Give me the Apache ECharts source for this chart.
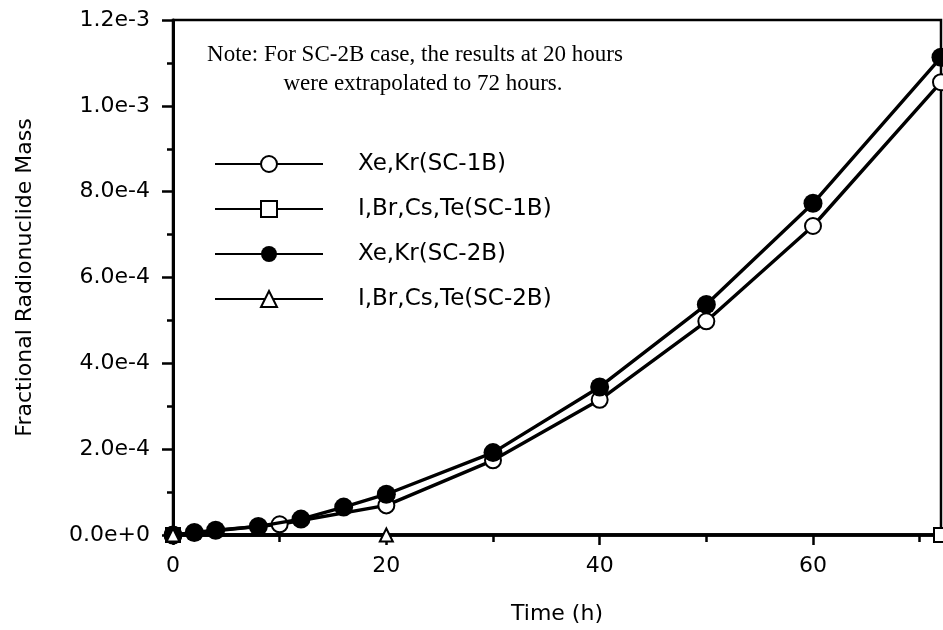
<!DOCTYPE html>
<html><head><meta charset="utf-8">
<script src="https://cdn.jsdelivr.net/npm/echarts@6/dist/echarts.min.js"></script>
<style>html,body{margin:0;padding:0;background:#fff}#c{width:943px;height:630px}</style>
</head><body><div id="c"></div>
<script>
const seriesNames = ['Xe,Kr(SC-1B)', 'I,Br,Cs,Te(SC-1B)', 'Xe,Kr(SC-2B)', 'I,Br,Cs,Te(SC-2B)'];
const hoursXeKrSC1B = [0, 10, 20, 30, 40, 50, 60, 72];
const massXeKrSC1B = [0, 0.25e-4, 0.69e-4, 1.74e-4, 3.15e-4, 4.98e-4, 7.2e-4, 10.55e-4];
const hoursIBrSC1B = [0, 72];
const massIBrSC1B = [0, 0];
const hoursXeKrSC2B = [0, 2, 4, 8, 12, 16, 20, 30, 40, 50, 60, 72];
const massXeKrSC2B = [0, 0.06e-4, 0.11e-4, 0.2e-4, 0.37e-4, 0.65e-4, 0.95e-4, 1.92e-4, 3.45e-4, 5.37e-4, 7.73e-4, 11.13e-4];
const hoursIBrSC2B = [0, 20];
const massIBrSC2B = [0, 0];
const xTickLabels = ['0', '20', '40', '60'];
const yTickLabels = ['0.0e+0', '2.0e-4', '4.0e-4', '6.0e-4', '8.0e-4', '1.0e-3', '1.2e-3'];
const noteLines = ['Note: For SC-2B case, the results at 20 hours', 'were extrapolated to 72 hours.'];

const pairs = (xs, ys) => xs.map((x, i) => [x, ys[i]]);
const F = 'DejaVu Sans';
const chart = echarts.init(document.getElementById('c'), null, {renderer: 'canvas'});
const baseLine = {color: '#000', width: 3.4};
chart.setOption({
  animation: false,
  backgroundColor: '#fff',
  grid: {left: 173, right: 2, top: 20, bottom: 92, show: true, borderColor: '#000', borderWidth: 2.5},
  legend: {
    orient: 'vertical', left: 214, top: 152, padding: 0, itemWidth: 108, itemHeight: 20, itemGap: 21,
    textStyle: {fontFamily: F, fontSize: 23, lineHeight: 24, color: '#000', padding: [0, 0, 0, 30]},
    data: seriesNames
  },
  graphic: [
    {type: 'text', x: 415, y: 55, style: {text: noteLines[0], font: '23px "Liberation Serif"', fill: '#000', align: 'center', verticalAlign: 'middle'}},
    {type: 'text', x: 423, y: 84, style: {text: noteLines[1], font: '23px "Liberation Serif"', fill: '#000', align: 'center', verticalAlign: 'middle'}}
  ],
  xAxis: [{
    type: 'value', min: 0, max: 72, interval: 20,
    name: 'Time (h)', nameLocation: 'middle', nameGap: 68,
    nameTextStyle: {fontFamily: F, fontSize: 22, color: '#000'},
    axisLine: {lineStyle: {color: '#000', width: 3.5}},
    axisTick: {show: true, length: 10, lineStyle: {color: '#000', width: 2.5}},
    axisLabel: {showMaxLabel: false, fontFamily: F, fontSize: 22, color: '#000', margin: 20,
      formatter: (v) => { const i = Math.round(v / 20); return (Math.abs(v - i * 20) < 1e-9 && i < xTickLabels.length) ? xTickLabels[i] : ''; }},
    splitLine: {show: false}
  }, {
    type: 'value', min: 0, max: 72, interval: 10, position: 'bottom',
    axisLine: {show: false},
    axisTick: {show: true, length: 7, lineStyle: {color: '#000', width: 2.5}},
    axisLabel: {show: false}, splitLine: {show: false}
  }],
  yAxis: {
    type: 'value', min: 0, max: 1.2e-3, interval: 2e-4,
    name: 'Fractional Radionuclide Mass', nameLocation: 'middle', nameGap: 137, nameRotate: 90,
    nameTextStyle: {fontFamily: F, fontSize: 22, color: '#000'},
    axisLine: {lineStyle: {color: '#000', width: 3}},
    axisTick: {show: true, length: 11, lineStyle: {color: '#000', width: 2.5}},
    minorTick: {show: true, splitNumber: 2, length: 6, lineStyle: {color: '#000', width: 2.5}},
    axisLabel: {fontFamily: F, fontSize: 22, color: '#000', margin: 23,
      formatter: (v) => yTickLabels[Math.round(v / 2e-4)]},
    splitLine: {show: false}
  },
  series: [
    {name: seriesNames[0], type: 'line', data: pairs(hoursXeKrSC1B, massXeKrSC1B), symbol: 'emptyCircle', symbolSize: 16,
      lineStyle: baseLine, itemStyle: {color: '#000', borderWidth: 3}, z: 2},
    {name: seriesNames[1], type: 'line', data: pairs(hoursIBrSC1B, massIBrSC1B), symbol: 'emptyRect', symbolSize: 14,
      lineStyle: baseLine, itemStyle: {color: '#000', borderWidth: 3}, z: 3},
    {name: seriesNames[2], type: 'line', data: pairs(hoursXeKrSC2B, massXeKrSC2B), symbol: 'circle', symbolSize: 19,
      lineStyle: baseLine, itemStyle: {color: '#000'}, z: 4},
    {name: seriesNames[3], type: 'line', data: pairs(hoursIBrSC2B, massIBrSC2B), symbol: 'emptyTriangle', symbolSize: 13,
      lineStyle: baseLine, itemStyle: {color: '#000', borderWidth: 3}, z: 5}
  ]
});
</script></body></html>
